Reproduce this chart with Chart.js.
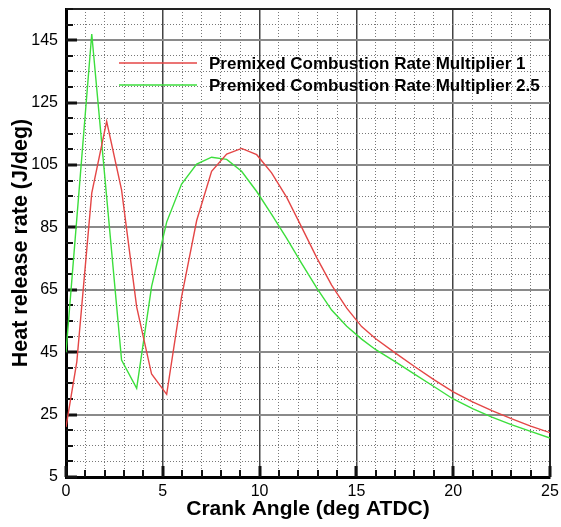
<!DOCTYPE html>
<html>
<head>
<meta charset="utf-8">
<script src="https://cdn.jsdelivr.net/npm/chart.js@4.4.1/dist/chart.umd.min.js"></script>
<style>
    html, body { margin: 0; padding: 0; background: #fff; }
    #wrap { width: 561px; height: 527px; }
</style>
</head>
<body>
<div id="wrap"><canvas id="hrrChart" width="561" height="527"></canvas></div>
<script>
// Data
const crankAngle = [0, 0.56, 1.33, 2.1, 2.87, 3.65, 4.42, 5.2, 5.97, 6.75, 7.52, 8.3, 9.07, 9.85, 10.62, 11.4,
    12.17, 12.95, 13.72, 14.5, 15.27, 16, 17, 18, 19, 20, 21, 22, 23, 24, 25];
const hrrMult1 = [21, 42, 96, 119, 97, 59.5, 38, 31.5, 62.7, 87.2, 103, 108.5, 110.3, 108.3, 102.5, 94.6,
    85.1, 75.3, 66.5, 59.1, 53.2, 49.3, 44.8, 40.4, 36.2, 32.3, 29.1, 26.3, 23.7, 21.3, 19.2];
const hrrMult25 = [45, null, 147, null, 42.5, 33.4, 66, 86.7, 98.9, 105.3, 107.5, 106.8, 103, 96.5, 89.2, 81.5,
    73.5, 65.6, 58.5, 53.3, 49.2, 45.8, 42, 38, 34, 30, 26.9, 24.2, 21.8, 19.6, 17.5];

const seriesNames = ['Premixed Combustion Rate Multiplier 1', 'Premixed Combustion Rate Multiplier 2.5'];
const seriesColors = ['rgb(228, 70, 70)', 'rgb(60, 222, 60)'];

// Axis ticks: every value gets a grid line, only the labelled ones get text
const xTicks = Array.from({ length: 26 }, (_, i) => i);
const xLabels = [0, 5, 10, 15, 20, 25];
const yTicks = Array.from({ length: 31 }, (_, i) => 5 + i * 5);
const yLabels = [5, 25, 45, 65, 85, 105, 125, 145];

const FONT = "'Liberation Sans', Arial, sans-serif";

const toPoints = (vals) => crankAngle.map((x, i) => ({ x: x, y: vals[i] }));

// Tick marks drawn inward from the left and bottom axes
const innerTicks = {
    id: 'innerTicks',
    beforeDatasetsDraw(chart) {
        const { ctx, chartArea: a, scales: { x, y } } = chart;
        ctx.save();
        ctx.strokeStyle = '#111';
        xTicks.forEach(v => {
            const major = xLabels.includes(v);
            const px = Math.round(x.getPixelForValue(v));
            ctx.lineWidth = major ? 3 : 2;
            ctx.beginPath();
            ctx.moveTo(px, a.bottom);
            ctx.lineTo(px, a.bottom - (major ? 11 : 7));
            ctx.stroke();
        });
        yTicks.forEach(v => {
            const major = yLabels.includes(v);
            const py = Math.round(y.getPixelForValue(v));
            ctx.lineWidth = major ? 3 : 2;
            ctx.beginPath();
            ctx.moveTo(a.left, py);
            ctx.lineTo(a.left + (major ? 11 : 7), py);
            ctx.stroke();
        });
        ctx.restore();
    }
};

// Legend sits inside the plot, without a frame
const insideLegend = {
    id: 'insideLegend',
    afterDatasetsDraw(chart) {
        const { ctx, chartArea: a } = chart;
        ctx.save();
        ctx.font = 'bold 17px ' + FONT;
        ctx.textBaseline = 'middle';
        ctx.fillStyle = '#000';
        chart.data.datasets.forEach((ds, i) => {
            const ly = a.top + 54 + i * 22;
            ctx.strokeStyle = ds.borderColor;
            ctx.lineWidth = 1.5;
            ctx.beginPath();
            ctx.moveTo(a.left + 53, ly);
            ctx.lineTo(a.left + 131, ly);
            ctx.stroke();
            ctx.fillText(ds.label, a.left + 143, ly + 1);
        });
        ctx.restore();
    }
};

const ctx = document.getElementById('hrrChart').getContext('2d');
new Chart(ctx, {
    type: 'scatter',
    data: {
        datasets: [
            { label: seriesNames[0], data: toPoints(hrrMult1), borderColor: seriesColors[0] },
            { label: seriesNames[1], data: toPoints(hrrMult25), borderColor: seriesColors[1] }
        ].map(d => Object.assign(d, {
            showLine: true, borderWidth: 1.4, pointRadius: 0, tension: 0, spanGaps: true, fill: false
        }))
    },
    options: {
        responsive: false,
        animation: false,
        events: [],
        layout: { padding: { top: 9, right: 11, left: 0, bottom: 0 } },
        plugins: { legend: { display: false }, tooltip: { enabled: false } },
        scales: {
            x: {
                type: 'linear',
                min: 0, max: 25,
                afterBuildTicks: s => { s.ticks = xTicks.map(v => ({ value: v })); },
                afterFit: s => { s.height = 50; s.paddingLeft = 0; s.paddingRight = 0; },
                ticks: {
                    autoSkip: false, maxRotation: 0, padding: 5, color: '#000',
                    font: { family: FONT, size: 16 },
                    callback: v => xLabels.includes(v) ? String(v) : ''
                },
                grid: {
                    drawTicks: false,
                    color: c => c.tick.value === 25 ? '#222' : (c.tick.value % 5 === 0 ? '#444' : '#777'),
                    lineWidth: c => c.tick.value === 25 ? 2 : (c.tick.value % 5 === 0 ? 1.5 : 1)
                },
                border: {
                    color: '#000', width: 3,
                    dash: c => (c.tick && c.tick.value % 5 !== 0) ? [1, 2] : []
                },
                title: {
                    display: true, text: 'Crank Angle (deg ATDC)', color: '#000',
                    font: { family: FONT, size: 21, weight: 'bold' },
                    padding: { top: 0, bottom: 5 }
                }
            },
            y: {
                type: 'linear',
                min: 5, max: 155,
                afterBuildTicks: s => { s.ticks = yTicks.map(v => ({ value: v })); },
                afterFit: s => { s.width = 66; s.paddingTop = 0; s.paddingBottom = 0; },
                ticks: {
                    autoSkip: false, padding: 8, color: '#000',
                    font: { family: FONT, size: 16 },
                    callback: v => yLabels.includes(v) ? String(v) : ''
                },
                grid: {
                    drawTicks: false,
                    color: c => c.tick.value === 155 ? '#222' : (yLabels.includes(c.tick.value) ? '#8a8a8a' : '#777'),
                    lineWidth: c => (c.tick.value === 155 || yLabels.includes(c.tick.value)) ? 2 : 1
                },
                border: {
                    color: '#000', width: 3,
                    dash: c => (c.tick && !yLabels.includes(c.tick.value) && c.tick.value !== 155) ? [1, 2] : []
                },
                title: {
                    display: true, text: 'Heat release rate (J/deg)', color: '#000',
                    font: { family: FONT, size: 21.5, weight: 'bold' },
                    padding: { top: 8, bottom: 0 }
                }
            }
        }
    },
    plugins: [innerTicks, insideLegend]
});
</script>
</body>
</html>
